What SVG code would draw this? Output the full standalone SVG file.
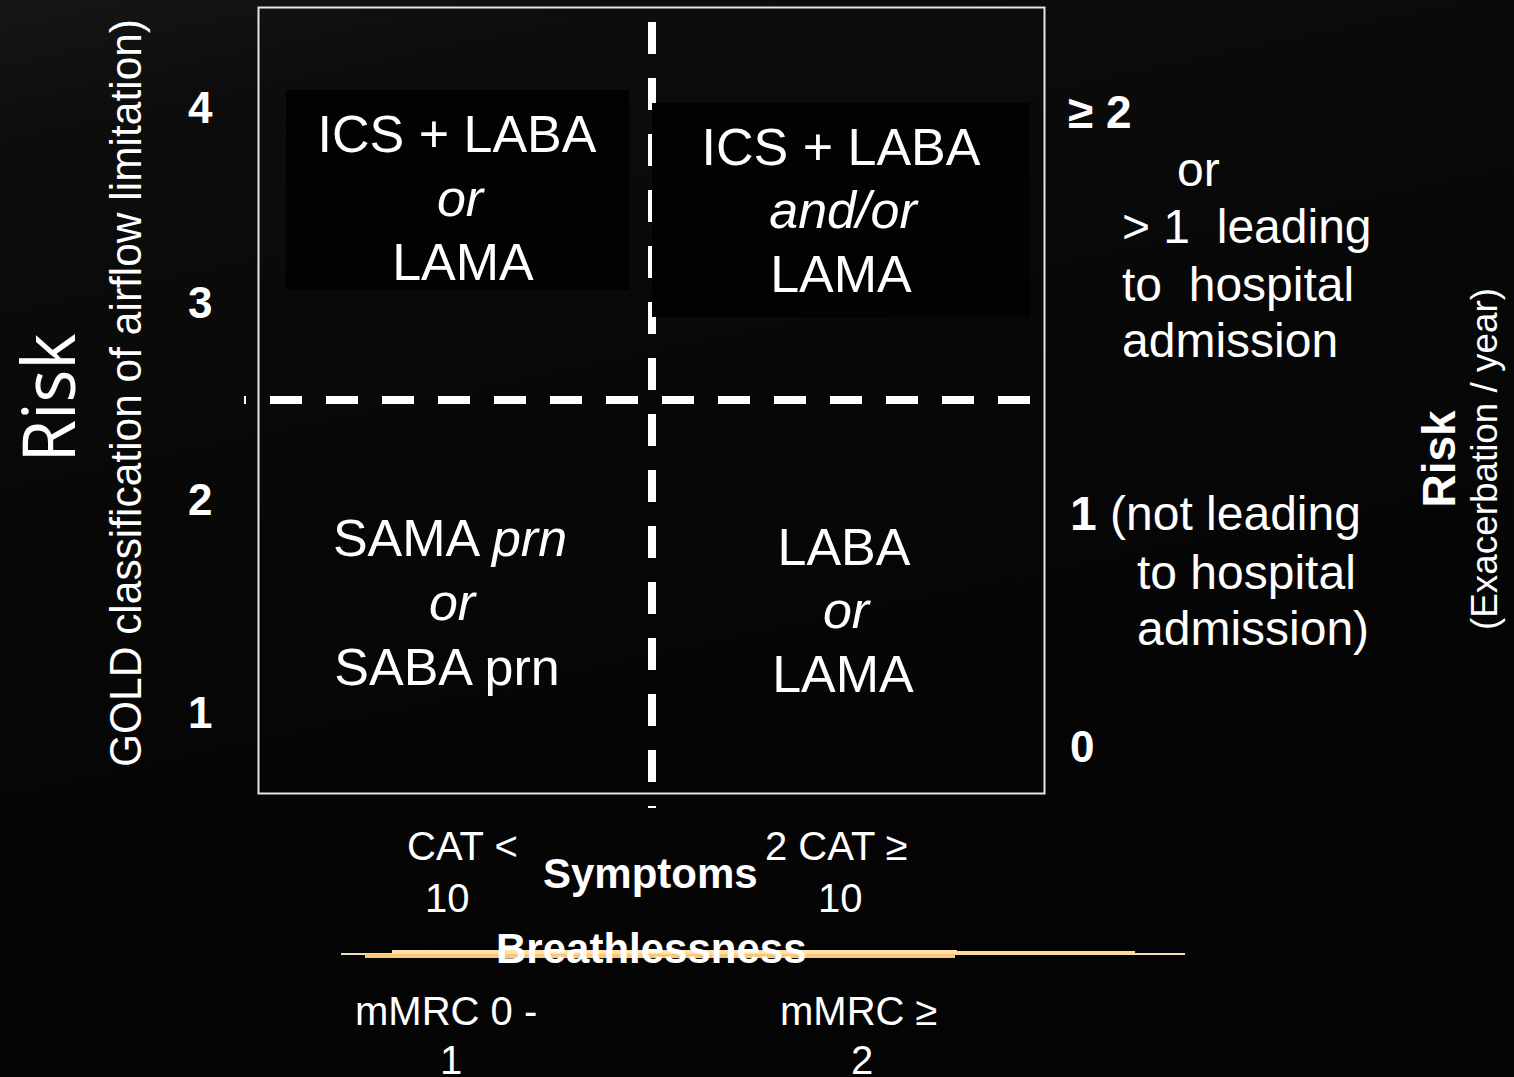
<svg xmlns="http://www.w3.org/2000/svg" width="1514" height="1077" viewBox="0 0 1514 1077">
<defs>
<linearGradient id="bg" x1="0" y1="0" x2="0.3" y2="1">
<stop offset="0" stop-color="#161616"/>
<stop offset="0.12" stop-color="#0d0d0d"/>
<stop offset="0.5" stop-color="#070707"/>
<stop offset="1" stop-color="#040404"/>
</linearGradient>
</defs>
<style>
text{fill:#fff;font-family:"Liberation Sans",Arial,sans-serif}
.q{font-size:52px;text-anchor:middle}
.i{font-style:italic}
.n{font-size:44px;font-weight:bold}
.r{font-size:48px}
.b{font-size:40px}
.dash{stroke:#fff;stroke-width:8;stroke-dasharray:32 24;fill:none}
</style>
<rect width="1514" height="1077" fill="url(#bg)"/>
<g id="frame">
<rect x="258.5" y="7.5" width="786" height="786" fill="none" stroke="#e6e6e6" stroke-width="2"/>
</g>
<g id="connectors">
<line class="dash" x1="244" y1="400" x2="1030" y2="400" stroke-dashoffset="30"/>
<line class="dash" x1="652" y1="22" x2="652" y2="808"/>
</g>
<g id="node-top-left">
<rect x="286" y="90" width="343" height="200" fill="#020202"/>
<text class="q" x="457" y="152">ICS + LABA</text>
<text class="q i" x="460" y="216">or</text>
<text class="q" x="463" y="280">LAMA</text>
</g>
<g id="node-top-right">
<rect x="652" y="103" width="378" height="214" fill="#020202"/>
<text class="q" x="841" y="165">ICS + LABA</text>
<text class="q i" x="843" y="228">and/or</text>
<text class="q" x="841" y="292">LAMA</text>
</g>
<g id="node-bottom-left">
<text class="q" x="450" y="556">SAMA <tspan class="i">prn</tspan></text>
<text class="q i" x="452" y="620">or</text>
<text class="q" x="447" y="685">SABA prn</text>
</g>
<g id="node-bottom-right">
<text class="q" x="844" y="565">LABA</text>
<text class="q i" x="846" y="628">or</text>
<text class="q" x="843" y="692">LAMA</text>
</g>
<g id="left-axis">
<text x="75" y="398" transform="rotate(-90 75 398)" style="font-family:'Open Sans','Noto Sans',sans-serif;font-size:74px;text-anchor:middle" textLength="129" lengthAdjust="spacingAndGlyphs">Risk</text>
<text x="141" y="393" transform="rotate(-90 141 393)" style="font-size:44px;text-anchor:middle" textLength="748" lengthAdjust="spacingAndGlyphs">GOLD classification of airflow limitation)</text>
<text class="n" x="188" y="123">4</text>
<text class="n" x="188" y="318">3</text>
<text class="n" x="188" y="515">2</text>
<text class="n" x="188" y="728">1</text>
</g>
<g id="right-axis">
<text class="n" x="1068" y="128" style="font-size:46px">≥ 2</text>
<text class="r" x="1177" y="186">or</text>
<text class="r" x="1122" y="243" xml:space="preserve">&gt; 1  leading</text>
<text class="r" x="1122" y="301" xml:space="preserve">to  hospital</text>
<text class="r" x="1122" y="357">admission</text>
<text class="r" x="1070" y="530"><tspan font-weight="bold">1</tspan> (not leading</text>
<text class="r" x="1137" y="589">to hospital</text>
<text class="r" x="1137" y="645">admission)</text>
<text class="n" x="1070" y="762">0</text>
<text x="1455" y="459" transform="rotate(-90 1455 459)" style="font-size:46px;font-weight:bold;text-anchor:middle">Risk</text>
<text x="1497" y="459" transform="rotate(-90 1497 459)" style="font-size:36px;text-anchor:middle" textLength="342" lengthAdjust="spacingAndGlyphs">(Exacerbation / year)</text>
</g>
<g id="bottom-axis">
<text class="b" x="407" y="860">CAT &lt;</text>
<text class="b" x="425" y="912">10</text>
<text x="543" y="888" style="font-size:42px;font-weight:bold">Symptoms</text>
<text class="b" x="765" y="860">2 CAT ≥</text>
<text class="b" x="818" y="912">10</text>
<rect x="341" y="953" width="844" height="2" fill="#f3dcb2"/>
<rect x="392" y="950" width="565" height="4" fill="#ffe0a6"/>
<rect x="365" y="954" width="590" height="4" fill="#f8c877"/>
<rect x="955" y="951" width="180" height="4" fill="#ffd99a"/>
<text x="496" y="963" style="font-size:42px;font-weight:bold">Breathlessness</text>
<text class="b" x="355" y="1025">mMRC 0 -</text>
<text class="b" x="451" y="1074" text-anchor="middle">1</text>
<text class="b" x="780" y="1025">mMRC ≥</text>
<text class="b" x="862" y="1074" text-anchor="middle">2</text>
</g>
</svg>
